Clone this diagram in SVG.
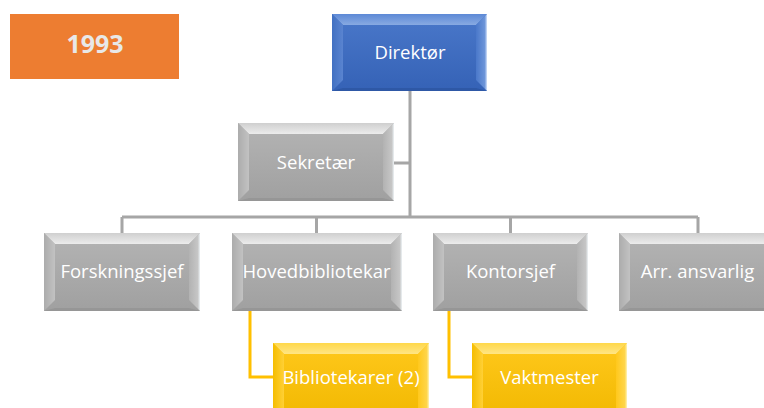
<svg xmlns="http://www.w3.org/2000/svg" width="764" height="408" viewBox="0 0 764 408">
<defs>
<linearGradient id="gFace" x1="0" y1="0" x2="0" y2="1"><stop offset="0" stop-color="#b4b4b4"/><stop offset="1" stop-color="#a0a0a0"/></linearGradient>
<linearGradient id="gTop" x1="0" y1="0" x2="0" y2="1"><stop offset="0" stop-color="#cfcfcf"/><stop offset="1" stop-color="#ececec"/></linearGradient>
<linearGradient id="gLeft" x1="0" y1="0" x2="1" y2="0"><stop offset="0" stop-color="#acacac"/><stop offset="1" stop-color="#c2c2c2"/></linearGradient>
<linearGradient id="gRight" x1="0" y1="0" x2="1" y2="0"><stop offset="0" stop-color="#b2b2b2"/><stop offset="0.8" stop-color="#c6c6c6"/><stop offset="1" stop-color="#eef3f6"/></linearGradient>
<linearGradient id="bFace" x1="0" y1="0" x2="0" y2="1"><stop offset="0" stop-color="#4a78ca"/><stop offset="1" stop-color="#3562b6"/></linearGradient>
<linearGradient id="bTop" x1="0" y1="0" x2="0" y2="1"><stop offset="0" stop-color="#5d89d6"/><stop offset="1" stop-color="#88aae2"/></linearGradient>
<linearGradient id="bLeft" x1="0" y1="0" x2="1" y2="0"><stop offset="0" stop-color="#4170c2"/><stop offset="1" stop-color="#5a84d0"/></linearGradient>
<linearGradient id="bRight" x1="0" y1="0" x2="1" y2="0"><stop offset="0" stop-color="#4a78ca"/><stop offset="0.8" stop-color="#6d95d9"/><stop offset="1" stop-color="#d4e3fb"/></linearGradient>
<linearGradient id="yFace" x1="0" y1="0" x2="0" y2="1"><stop offset="0" stop-color="#ffc81c"/><stop offset="1" stop-color="#f1b800"/></linearGradient>
<linearGradient id="yTop" x1="0" y1="0" x2="0" y2="1"><stop offset="0" stop-color="#ffd84a"/><stop offset="1" stop-color="#ffe584"/></linearGradient>
<linearGradient id="yLeft" x1="0" y1="0" x2="1" y2="0"><stop offset="0" stop-color="#f5bd00"/><stop offset="1" stop-color="#ffd036"/></linearGradient>
<linearGradient id="yRight" x1="0" y1="0" x2="1" y2="0"><stop offset="0" stop-color="#ffc81c"/><stop offset="0.8" stop-color="#ffd54a"/><stop offset="1" stop-color="#fff4b8"/></linearGradient>
</defs>
<style>
text{font-family:"Open Sans","Noto Sans","DejaVu Sans",sans-serif;font-size:18.5px;fill:#ffffff;text-anchor:middle}
.year{font-weight:bold;font-size:25px;fill:#e8e8e8}
.gf{fill:url(#gFace)}.gt{fill:url(#gTop)}.gl{fill:url(#gLeft)}.gr{fill:url(#gRight)}.gb{fill:#969696}
.bf{fill:url(#bFace)}.bt{fill:url(#bTop)}.bl{fill:url(#bLeft)}.br{fill:url(#bRight)}.bb{fill:#2e58a6}
.yf{fill:url(#yFace)}.yt{fill:url(#yTop)}.yl{fill:url(#yLeft)}.yr{fill:url(#yRight)}.yb{fill:#e3aa00}
.conn{fill:none;stroke:#a6a6a6;stroke-width:3}
.yconn{fill:none;stroke:#ffc000;stroke-width:3}
</style>

<g id="year">
<rect x="10" y="14" width="169" height="65" fill="#ed7d31"/>
<text class="year" x="95" y="53">1993</text>
</g>

<g id="connectors">
<path class="conn" d="M410 91V217M394 163H410M122 217H698M122 217V233M316.5 217V233M510.5 217V233M698 217V233"/>
<path class="yconn" d="M250 311V377H273M449 311V377H472"/>
</g>

<g id="direktor">
<rect class="bf" x="332" y="14" width="155" height="77"/>
<polygon class="bt" points="332,14 487,14 476,25 343,25"/>
<polygon class="bl" points="332,14 343,25 343,80 332,91"/>
<polygon class="br" points="487,14 476,25 476,80 487,91"/>
<polygon class="bb" points="332,91 343,88 476,88 487,91"/>
<text x="410" y="59">Direktør</text>
</g>

<g id="sekretaer">
<rect class="gf" x="238" y="123" width="156" height="78"/>
<polygon class="gt" points="238,123 394,123 383,134 249,134"/>
<polygon class="gl" points="238,123 249,134 249,190 238,201"/>
<polygon class="gr" points="394,123 383,134 383,190 394,201"/>
<polygon class="gb" points="238,201 249,198 383,198 394,201"/>
<text x="316" y="169">Sekretær</text>
</g>

<g id="forskningssjef">
<rect class="gf" x="44" y="233" width="156" height="78"/>
<polygon class="gt" points="44,233 200,233 189,244 55,244"/>
<polygon class="gl" points="44,233 55,244 55,300 44,311"/>
<polygon class="gr" points="200,233 189,244 189,300 200,311"/>
<polygon class="gb" points="44,311 55,308 189,308 200,311"/>
<text x="122" y="278">Forskningssjef</text>
</g>

<g id="hovedbibliotekar">
<rect class="gf" x="232" y="233" width="170" height="78"/>
<polygon class="gt" points="232,233 402,233 391,244 243,244"/>
<polygon class="gl" points="232,233 243,244 243,300 232,311"/>
<polygon class="gr" points="402,233 391,244 391,300 402,311"/>
<polygon class="gb" points="232,311 243,308 391,308 402,311"/>
<text x="316.5" y="278">Hovedbibliotekar</text>
</g>

<g id="kontorsjef">
<rect class="gf" x="433" y="233" width="155" height="78"/>
<polygon class="gt" points="433,233 588,233 577,244 444,244"/>
<polygon class="gl" points="433,233 444,244 444,300 433,311"/>
<polygon class="gr" points="588,233 577,244 577,300 588,311"/>
<polygon class="gb" points="433,311 444,308 577,308 588,311"/>
<text x="510.5" y="278">Kontorsjef</text>
</g>

<g id="arr-ansvarlig">
<rect class="gf" x="619" y="233" width="157" height="78"/>
<polygon class="gt" points="619,233 776,233 765,244 630,244"/>
<polygon class="gl" points="619,233 630,244 630,300 619,311"/>
<polygon class="gb" points="619,311 630,308 765,308 776,311"/>
<text x="697.5" y="278">Arr. ansvarlig</text>
</g>

<g id="bibliotekarer">
<rect class="yf" x="273" y="343" width="156" height="78"/>
<polygon class="yt" points="273,343 429,343 418,354 284,354"/>
<polygon class="yl" points="273,343 284,354 284,410 273,421"/>
<polygon class="yr" points="429,343 418,354 418,410 429,421"/>
<text x="351" y="384">Bibliotekarer (2)</text>
</g>

<g id="vaktmester">
<rect class="yf" x="472" y="343" width="155" height="78"/>
<polygon class="yt" points="472,343 627,343 616,354 483,354"/>
<polygon class="yl" points="472,343 483,354 483,410 472,421"/>
<polygon class="yr" points="627,343 616,354 616,410 627,421"/>
<text x="549.5" y="384">Vaktmester</text>
</g>
</svg>
